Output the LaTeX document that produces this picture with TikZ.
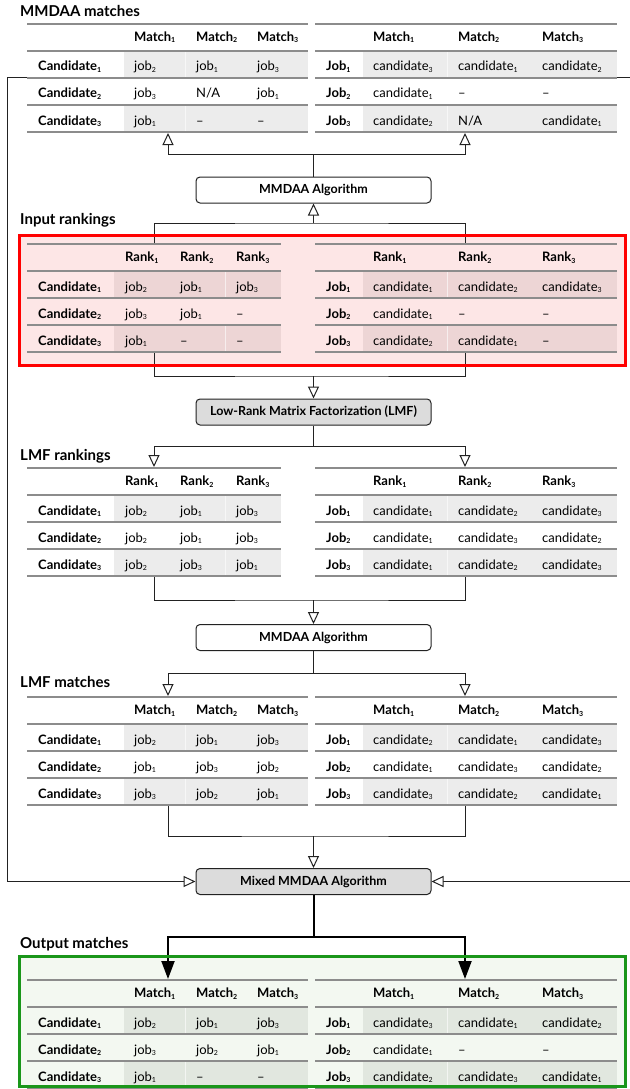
\documentclass[tikz,border=0pt]{standalone}
\usepackage{fontspec}
\setmainfont{Lato}
\usetikzlibrary{arrows.meta}

\definecolor{rulegray}{HTML}{8C8C8C}
\definecolor{shadegray}{HTML}{ECECEC}
\definecolor{redfill}{HTML}{FDE6E6}
\definecolor{redshade}{HTML}{EDD5D5}
\definecolor{redline}{HTML}{FF0000}
\definecolor{greenfill}{HTML}{F3F8F1}
\definecolor{greenshade}{HTML}{E1E7DF}
\definecolor{greenline}{HTML}{1A961A}
\definecolor{boxgray}{HTML}{DCDCDC}
\definecolor{ink}{HTML}{222222}

% small subscript sitting just under the baseline
\newcommand\sub[1]{\raisebox{-1.5pt}{\fontsize{7}{8}\selectfont #1}}
\newcommand\candL[1]{Candidate\sub{#1}}
\newcommand\jobL[1]{Job\sub{#1}}
\newcommand\jobv[1]{job\sub{#1}}
\newcommand\candv[1]{candidate\sub{#1}}
\newcommand\dashcell{–}

% table frame: left x, shade start x, right x, top y, seam x, shade colour
\newcommand\tframe[6]{%
  \fill[#6] (#2,#4+27) rectangle (#3,#4+54);
  \fill[#6] (#2,#4+81) rectangle (#3,#4+108);
  \draw[seam] (#5,#4+27) -- (#5,#4+54) (#5,#4+81) -- (#5,#4+108);
  \foreach \k in {0,...,4}{\draw[rule] (#1,#4+27*\k) -- (#3,#4+27*\k);}
}
% header row: prefix, top y, word
\newcommand\thead[3]{%
  \node[hd] (#1-1) at (\colA,#2+17.5) {#3\sub1};
  \node[hd] (#1-2) at (\colB,#2+17.5) {#3\sub2};
  \node[hd] (#1-3) at (\colC,#2+17.5) {#3\sub3};
}
% data row: prefix, top y, label x, label, three cells
\newcommand\trow[7]{%
  \node[lab] (#1-l) at (#3,#2+20) {#4};
  \node[cell] (#1-a) at (\colA,#2+20) {#5};
  \node[cell] (#1-b) at (\colB,#2+20) {#6};
  \node[cell] (#1-c) at (\colC,#2+20) {#7};
}

\begin{document}
\begin{tikzpicture}[x=1pt,y=-1pt,
  rule/.style={draw=rulegray,line width=2pt},
  seam/.style={draw=white,line width=0.7pt,opacity=0.6},
  hd/.style={anchor=base west,inner sep=0pt,font=\fontsize{13}{15}\selectfont\bfseries},
  lab/.style={anchor=base west,inner sep=0pt,font=\fontsize{13}{15}\selectfont\bfseries},
  cell/.style={anchor=base west,inner sep=0pt,font=\fontsize{13}{15}\selectfont},
  title/.style={anchor=base west,inner sep=0pt,font=\fontsize{15}{18}\selectfont\bfseries},
  algo/.style={draw=ink,line width=1pt,rounded corners=4pt,minimum width=235pt,
    minimum height=26pt,inner sep=0pt,font=\fontsize{12.5}{14}\selectfont\bfseries},
  link/.style={draw=ink,line width=1pt},
  oarrow/.style={link,-{Triangle[open,length=12pt,width=11pt,fill=white]}},
  farrow/.style={draw=black,line width=2pt,-{Triangle[length=18pt,width=13pt]}},
]
\useasboundingbox (0,0) rectangle (629,1089);
\fill[white] (0,0) rectangle (629,1089);

% ---------- coloured panels (fill only) ----------
\fill[redfill] (19.5,235.5) rectangle (625.5,365);
\fill[greenfill] (19.8,956.5) rectangle (625.2,1086.5);

% ---------- titles ----------
\node[title] (ttl1) at (20,16.8) {MMDAA matches};
\node[title] (ttl2) at (20,224) {Input rankings};
\node[title] (ttl3) at (20,460) {LMF rankings};
\node[title] (ttl4) at (20,687) {LMF matches};
\node[title] (ttl5) at (20,948) {Output matches};

% ---------- MMDAA matches ----------
\tframe{27}{124}{308}{24}{185}{shadegray}
\tframe{315}{363}{617}{24}{447}{shadegray}
\def\colA{134}\def\colB{196}\def\colC{257}
\thead{m1l}{24}{Match}
\trow{m1l1}{51}{38}{\candL1}{\jobv2}{\jobv1}{\jobv3}
\trow{m1l2}{78}{38}{\candL2}{\jobv3}{N/A}{\jobv1}
\trow{m1l3}{105}{38}{\candL3}{\jobv1}{\dashcell}{\dashcell}
\def\colA{373}\def\colB{458}\def\colC{542}
\thead{m1r}{24}{Match}
\trow{m1r1}{51}{326}{\jobL1}{\candv3}{\candv1}{\candv2}
\trow{m1r2}{78}{326}{\jobL2}{\candv1}{\dashcell}{\dashcell}
\trow{m1r3}{105}{326}{\jobL3}{\candv2}{N/A}{\candv1}

% ---------- Input rankings ----------
\tframe{27}{114}{281}{244}{225}{redshade}
\tframe{315}{363}{617}{244}{447}{redshade}
\def\colA{125}\def\colB{180}\def\colC{236}
\thead{r1l}{244}{Rank}
\trow{r1l1}{271}{38}{\candL1}{\jobv2}{\jobv1}{\jobv3}
\trow{r1l2}{298}{38}{\candL2}{\jobv3}{\jobv1}{\dashcell}
\trow{r1l3}{325}{38}{\candL3}{\jobv1}{\dashcell}{\dashcell}
\def\colA{373}\def\colB{458}\def\colC{542}
\thead{r1r}{244}{Rank}
\trow{r1r1}{271}{326}{\jobL1}{\candv1}{\candv2}{\candv3}
\trow{r1r2}{298}{326}{\jobL2}{\candv1}{\dashcell}{\dashcell}
\trow{r1r3}{325}{326}{\jobL3}{\candv2}{\candv1}{\dashcell}

% ---------- LMF rankings ----------
\tframe{27}{114}{281}{468}{225}{shadegray}
\tframe{315}{363}{617}{468}{447}{shadegray}
\def\colA{125}\def\colB{180}\def\colC{236}
\thead{r2l}{468}{Rank}
\trow{r2l1}{495}{38}{\candL1}{\jobv2}{\jobv1}{\jobv3}
\trow{r2l2}{522}{38}{\candL2}{\jobv2}{\jobv1}{\jobv3}
\trow{r2l3}{549}{38}{\candL3}{\jobv2}{\jobv3}{\jobv1}
\def\colA{373}\def\colB{458}\def\colC{542}
\thead{r2r}{468}{Rank}
\trow{r2r1}{495}{326}{\jobL1}{\candv1}{\candv2}{\candv3}
\trow{r2r2}{522}{326}{\jobL2}{\candv1}{\candv3}{\candv2}
\trow{r2r3}{549}{326}{\jobL3}{\candv1}{\candv2}{\candv3}

% ---------- LMF matches ----------
\tframe{27}{124}{308}{697}{185}{shadegray}
\tframe{315}{363}{617}{697}{447}{shadegray}
\def\colA{134}\def\colB{196}\def\colC{257}
\thead{m2l}{697}{Match}
\trow{m2l1}{724}{38}{\candL1}{\jobv2}{\jobv1}{\jobv3}
\trow{m2l2}{751}{38}{\candL2}{\jobv1}{\jobv3}{\jobv2}
\trow{m2l3}{778}{38}{\candL3}{\jobv3}{\jobv2}{\jobv1}
\def\colA{373}\def\colB{458}\def\colC{542}
\thead{m2r}{697}{Match}
\trow{m2r1}{724}{326}{\jobL1}{\candv2}{\candv1}{\candv3}
\trow{m2r2}{751}{326}{\jobL2}{\candv1}{\candv3}{\candv2}
\trow{m2r3}{778}{326}{\jobL3}{\candv3}{\candv2}{\candv1}

% ---------- Output matches ----------
\tframe{27}{124}{308}{980}{185}{greenshade}
\tframe{315}{363}{617}{980}{447}{greenshade}
\def\colA{134}\def\colB{196}\def\colC{257}
\thead{m3l}{980}{Match}
\trow{m3l1}{1007}{38}{\candL1}{\jobv2}{\jobv1}{\jobv3}
\trow{m3l2}{1034}{38}{\candL2}{\jobv3}{\jobv2}{\jobv1}
\trow{m3l3}{1061}{38}{\candL3}{\jobv1}{\dashcell}{\dashcell}
\def\colA{373}\def\colB{458}\def\colC{542}
\thead{m3r}{980}{Match}
\trow{m3r1}{1007}{326}{\jobL1}{\candv3}{\candv1}{\candv2}
\trow{m3r2}{1034}{326}{\jobL2}{\candv1}{\dashcell}{\dashcell}
\trow{m3r3}{1061}{326}{\jobL3}{\candv2}{\candv3}{\candv1}

% ---------- algorithm boxes ----------
\node[algo,fill=white]    (b1) at (313.5,190)   {MMDAA Algorithm};
\node[algo,fill=boxgray]  (b2) at (313.5,412)   {Low-Rank Matrix Factorization (LMF)};
\node[algo,fill=white]    (b3) at (313.5,637.5) {MMDAA Algorithm};
\node[algo,fill=boxgray]  (b4) at (313.5,881.5) {Mixed MMDAA Algorithm};

% ---------- table anchor points ----------
\coordinate (t1lb) at (168,133);   \coordinate (t1rb) at (465,133);
\coordinate (t1ls) at (27,78);     \coordinate (t1rs) at (617,78);
\coordinate (t2lt) at (154,243);   \coordinate (t2rt) at (465,243);
\coordinate (t2lb) at (154,353);   \coordinate (t2rb) at (465,353);
\coordinate (t3lt) at (154,467);   \coordinate (t3rt) at (465,467);
\coordinate (t3lb) at (154,577);   \coordinate (t3rb) at (465,577);
\coordinate (t4lt) at (168,696);   \coordinate (t4rt) at (465,696);
\coordinate (t4lb) at (168,806);   \coordinate (t4rb) at (465,806);
\coordinate (t5lt) at (168,979);   \coordinate (t5rt) at (465,979);
% junctions
\coordinate (j1) at (313.5,154);
\coordinate (j2) at (313.5,223);
\coordinate (j3) at (313.5,376);
\coordinate (j4) at (313.5,446);
\coordinate (j5) at (313.5,600);
\coordinate (j6) at (313.5,673);
\coordinate (j7) at (313.5,836);
\coordinate (j8) at (313.5,937);
\coordinate (sl) at (7,78);
\coordinate (sr) at (640,78);

% ---------- connectors ----------
% first matching back to the top tables
\draw[link] (b1.north) -- (j1);
\draw[oarrow] (j1) -| (t1lb);
\draw[oarrow] (j1) -| (t1rb);
% input rankings into the first matching
\draw[link] (t2lt) |- (j2) -| (t2rt);
\draw[oarrow] (j2) -- (b1.south);
% input rankings into the factorization
\draw[link] (t2lb) |- (j3) -| (t2rb);
\draw[oarrow] (j3) -- (b2.north);
% factorization into the LMF rankings
\draw[link] (b2.south) -- (j4);
\draw[oarrow] (j4) -| (t3lt);
\draw[oarrow] (j4) -| (t3rt);
% LMF rankings into the second matching
\draw[link] (t3lb) |- (j5) -| (t3rb);
\draw[oarrow] (j5) -- (b3.north);
% second matching into the LMF matches
\draw[link] (b3.south) -- (j6);
\draw[oarrow] (j6) -| (t4lt);
\draw[oarrow] (j6) -| (t4rt);
% LMF matches into the mixed matching
\draw[link] (t4lb) |- (j7) -| (t4rb);
\draw[oarrow] (j7) -- (b4.north);
% first matches looping down to the mixed matching
\draw[oarrow] (t1ls) -- (sl) |- (b4.west);
\draw[oarrow] (t1rs) -- (sr) |- (b4.east);
% mixed matching into the output
\draw[draw=black,line width=2pt] (b4.south) -- (j8);
\draw[farrow] (j8) -| (t5lt);
\draw[farrow] (j8) -| (t5rt);

% ---------- panel borders ----------
\draw[redline,line width=3pt] (19.5,235.5) rectangle (625.5,365);
\draw[greenline,line width=3pt] (19.8,956.5) rectangle (625.2,1086.5);
\end{tikzpicture}
\end{document}
